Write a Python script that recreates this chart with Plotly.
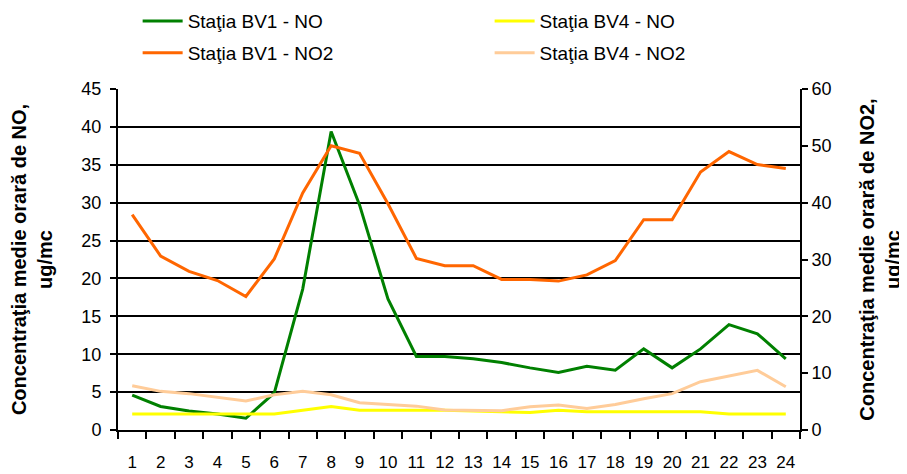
import plotly.graph_objects as go

hours = [str(h) for h in range(1, 25)]

bv1_no = [4.6, 3.1, 2.5, 2.1, 1.55, 4.9, 18.6, 39.4, 29.7, 17.3, 9.7, 9.7,
          9.4, 8.9, 8.2, 7.6, 8.4, 7.9, 10.7, 8.2, 10.7, 13.9, 12.7, 9.4]
bv4_no = [2.1, 2.1, 2.1, 2.1, 2.1, 2.1, 2.6, 3.1, 2.6, 2.6, 2.6, 2.6,
          2.5, 2.4, 2.3, 2.6, 2.4, 2.4, 2.4, 2.4, 2.4, 2.1, 2.1, 2.1]
bv1_no2 = [37.9, 30.6, 27.9, 26.3, 23.5, 30.1, 41.7, 50.0, 48.7, 39.8, 30.2, 28.9,
           28.9, 26.5, 26.5, 26.2, 27.3, 29.8, 37.0, 37.0, 45.4, 49.0, 46.7, 46.0]
bv4_no2 = [7.8, 6.8, 6.4, 5.8, 5.1, 6.2, 6.8, 6.2, 4.8, 4.5, 4.2, 3.5,
           3.4, 3.4, 4.1, 4.4, 3.8, 4.5, 5.5, 6.4, 8.5, 9.5, 10.5, 7.6]

no_ticks = list(range(0, 50, 5))
no2_ticks = list(range(0, 70, 10))

FONT = "Liberation Sans, Arial, sans-serif"

fig = go.Figure()
fig.add_trace(go.Scatter(x=hours, y=bv1_no, name="Staţia BV1 - NO", mode="lines",
                         line=dict(color="#008000", width=3), legend="legend"))
fig.add_trace(go.Scatter(x=hours, y=bv4_no, name="Staţia BV4 - NO", mode="lines",
                         line=dict(color="#FFFF00", width=3), legend="legend2"))
fig.add_trace(go.Scatter(x=hours, y=bv1_no2, name="Staţia BV1 - NO2", mode="lines",
                         line=dict(color="#FF6600", width=3), yaxis="y2", legend="legend3"))
fig.add_trace(go.Scatter(x=hours, y=bv4_no2, name="Staţia BV4 - NO2", mode="lines",
                         line=dict(color="#FFCC99", width=3), yaxis="y2", legend="legend4"))

legend_common = dict(orientation="h", xanchor="left", yanchor="middle",
                     font=dict(family=FONT, size=19, color="black"),
                     bgcolor="rgba(0,0,0,0)", itemwidth=40)

fig.update_layout(
    width=899, height=466,
    margin=dict(l=110, r=107, t=81, b=44, autoexpand=False),
    paper_bgcolor="white", plot_bgcolor="white",
    font=dict(family=FONT, size=18, color="black"),
    showlegend=True,
    legend=dict(x=0.0288, y=1.199, **legend_common),
    legend2=dict(x=0.5449, y=1.199, **legend_common),
    legend3=dict(x=0.0288, y=1.106, **legend_common),
    legend4=dict(x=0.5449, y=1.106, **legend_common),
    xaxis=dict(type="category", categoryorder="array", categoryarray=hours,
               tickson="boundaries", ticks="outside", ticklen=7, tickcolor="black",
               tickwidth=1.5, showline=True, linecolor="black", linewidth=2,
               showgrid=False, ticklabelstandoff=16, tickangle=0,
               tickfont=dict(family=FONT, size=17), range=[-0.5, 23.5]),
    yaxis=dict(range=[0, 45], tickvals=no_ticks, ticks="outside", ticklen=6,
               tickcolor="black", tickwidth=1.5, showline=True, linecolor="black",
               linewidth=2, showgrid=True, gridcolor="black", gridwidth=1.5,
               zeroline=False, tickfont=dict(family=FONT, size=18),
               ticklabelstandoff=5,
               title=dict(text="<b>Concentraţia medie orară de NO,<br>ug/mc</b>",
                          font=dict(family=FONT, size=20), standoff=24)),
    yaxis2=dict(range=[0, 60], tickvals=no2_ticks, overlaying="y", side="right",
                ticks="outside", ticklen=6, tickcolor="black", tickwidth=1.5,
                showline=True, linecolor="black", linewidth=2, showgrid=False,
                zeroline=False, tickfont=dict(family=FONT, size=18),
                title=dict(text="<b>Concentraţia medie orară de NO2,<br>ug/mc</b>",
                           font=dict(family=FONT, size=20), standoff=29)),
)

fig.write_html("out.html")
